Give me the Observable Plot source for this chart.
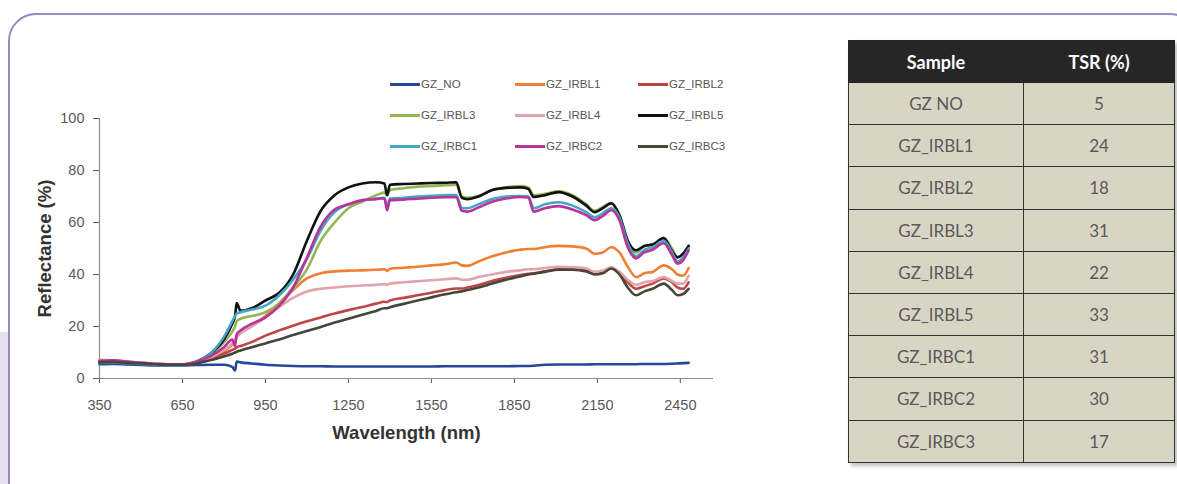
<!DOCTYPE html>
<html>
<head>
<meta charset="utf-8">
<script src="https://cdn.jsdelivr.net/npm/d3@7"></script>
<script src="https://cdn.jsdelivr.net/npm/@observablehq/plot@0.6"></script>
<style>
  html, body { margin: 0; padding: 0; background: #fff; }
  body { width: 1177px; height: 484px; position: relative; overflow: hidden; font-family: "Liberation Sans", Arial, sans-serif; }
  #tab { position: absolute; left: 0; top: 332px; width: 9px; height: 160px; background: #e4e0ee; }
  #frame { position: absolute; left: 8px; top: 13px; width: 1190px; height: 520px; border: 2px solid #9b88c0; border-radius: 28px; box-sizing: border-box; }
  #chart { position: absolute; left: 0; top: 0; }
  #chart svg [aria-label="y-axis label"] text, #chart svg [aria-label="x-axis label"] text { font-weight: bold; font-size: 18.5px; fill: #333; }
  #legend { position: absolute; left: 390px; top: 78px; font-size: 11.5px; color: #555; }
  .li { position: absolute; display: flex; align-items: center; white-space: nowrap; }
  .sw { width: 30px; height: 3px; margin-right: 1px; }
  #tbl { position: absolute; left: 848px; top: 40px; border-collapse: collapse; font-family: Lato, "Open Sans", sans-serif; box-shadow: 3px 3px 4px rgba(0,0,0,0.25); }
  #tbl th { background: #262626; color: #fff; font-weight: bold; font-size: 18px; height: 41px; padding: 0; border: 1.5px solid #262626; }
  #tbl td { background: #d9d5c5; color: #5a5a5a; font-size: 17px; height: 41.2px; padding: 0; text-align: center; border: 1.5px solid #333; }
</style>
</head>
<body>
<div id="tab"></div>
<div id="frame"></div>
<div id="chart"></div>
<div id="legend"></div>
<table id="tbl"></table>
<script>
// Wavelength grid (nm)
const wavelength = [350,400,450,500,550,600,650,700,750,800,830,840,846,860,900,950,1000,1050,1100,1150,1200,1250,1300,1350,1380,1390,1400,1450,1500,1550,1600,1640,1660,1680,1720,1770,1820,1870,1900,1920,1960,2010,2060,2110,2140,2170,2200,2230,2260,2290,2320,2350,2390,2420,2440,2460,2480];

// Reflectance (%) per sample
const GZ_NO    = [5.5,5.6,5.4,5.2,5.0,5.0,5.0,5.2,5.3,5.3, 4.5,3.0,6.5,6.2, 5.8,5.3,5.0,4.8,4.7,4.7,4.6,4.6,4.6,4.6, 4.6,4.6,4.6, 4.6,4.6,4.6,4.7,4.7, 4.7,4.7,4.7,4.7,4.7,4.8, 4.8,4.9,5.3,5.4,5.4, 5.4,5.5,5.5,5.5,5.5, 5.5,5.5,5.6,5.6,5.6, 5.7,5.8,5.9,6.0];
const GZ_IRBL1 = [6.5,6.6,6.2,5.9,5.6,5.4,5.4,6.0,7.5,10.5, 13,14,16,17.5, 20,24,29,34,38.5,40.5,41.2,41.5,41.6,41.8, 42,41.4,42.2, 42.6,43,43.5,44,44.6, 43.5,43.3,45,47,48.5,49.5, 49.8,49.8,50.5,51,50.8, 50,48,48.5,50.5,48.5, 43,39,40.5,41,43.5, 42,40,39.5,42.5];
const GZ_IRBL2 = [6.8,6.8,6.3,6.0,5.7,5.5,5.4,6.0,7.5,9.5, 11,11.5,12,12.5, 14,16.5,18.5,20.3,22,23.5,25,26.3,27.5,28.8, 29.5,29.4,30, 31,32,33,34,34.6, 34.6,35,36,37.5,38.7,39.8, 40.3,40.5,41.2,42,42, 41.5,40.3,40.8,42.7,40.5, 37,34.5,35.5,36.5,38.5, 37,35,34.5,37];
const GZ_IRBL3 = [6.5,6.7,6.3,6.0,5.7,5.4,5.4,6.5,9,14, 18,20,22,23, 24,25.5,29,35,42,53,60,65.5,68,70.5, 71.5,70.5,72.5, 73.2,73.8,74,74.3,74.5, 70,69.5,70.2,72.5,73.5,74, 73.5,70.5,71,72,70.5, 67,64.5,66,67.5,63, 53,48.5,51,51.5,54, 50,46.5,48,51];
const GZ_IRBL4 = [7.2,7.0,6.5,6.1,5.8,5.5,5.5,6.3,8,11, 13.5,15,16.5,17.5, 20,23.5,27.5,31,33.5,34.5,35,35.5,35.8,36, 36.3,36,36.5, 37,37.4,37.8,38.2,38.5, 38,38,39,40,41,41.6, 42,42,42.5,43,42.8, 42.3,41,41.5,42.8,41, 38,36,37,37.5,39, 37.5,36.5,36.5,39.5];
const GZ_IRBL5 = [6.2,6.4,6.0,5.8,5.5,5.3,5.3,6.5,9.5,15, 21,24,29,26, 27,30,33,40,53,64.5,70.5,73.5,75,75.5, 75,70.5,74.5, 74.8,75,75.2,75.3,75.5, 69.5,69,70,72.5,73.3,73.5, 73,69.8,70.5,71.7,70, 66.5,64,65.5,67.4,62.8, 53,49.3,51,51.5,54, 49,46.6,48,51];
const GZ_IRBC1 = [6.0,6.2,5.9,5.6,5.4,5.2,5.2,6.5,9.5,16, 22,24,25,25.5, 26.5,28,32,38,46,57,64,67,68.5,69.2, 69.5,66,69.2, 69.5,70,70.3,70.5,70.6, 65.5,65.5,67,69,70,70.2, 70,65.5,67,67.8,66.5, 64,62,63.5,65.5,62, 52,47,49.5,50.5,53, 48.5,45,46.5,50];
const GZ_IRBC2 = [6.8,7.0,6.5,6.0,5.7,5.4,5.4,6.3,8.5,12, 15,12.5,17,18.5, 21,23.5,28,35,46.5,58.5,65,67,68.6,69, 69.3,64.7,68.6, 68.8,69.2,69.5,69.7,69.8, 64.5,64.2,65.8,68,69.2,69.8, 69.6,64.2,65.5,66.3,65, 62.8,60.9,62.5,64.7,60.9, 50.5,46.2,48.5,49.5,52, 47.5,44.2,45.5,49.3];
const GZ_IRBC3 = [6.2,6.4,6.0,5.8,5.5,5.3,5.3,5.8,7,8.5, 9.5,10,10.3,10.8, 12,13.5,15,16.7,18.3,19.8,21.5,23,24.5,26, 27,27,27.4, 28.7,30,31.2,32.4,33.2, 33.5,34,35,36.5,38,39.2, 40,40.3,41,41.8,41.8, 41.2,40,40.5,42.3,40, 35,32,33.5,34.5,36.5, 34,32,32.5,34.5];

const seriesNames = ["GZ_NO","GZ_IRBL1","GZ_IRBL2","GZ_IRBL3","GZ_IRBL4","GZ_IRBL5","GZ_IRBC1","GZ_IRBC2","GZ_IRBC3"];
const seriesValues = [GZ_NO,GZ_IRBL1,GZ_IRBL2,GZ_IRBL3,GZ_IRBL4,GZ_IRBL5,GZ_IRBC1,GZ_IRBC2,GZ_IRBC3];
const seriesColors = ["#27479a","#ef7f33","#bf4646","#95b552","#e3a3aa","#111111","#43a6c4","#b8339a","#454538"];

const xTicks = [350,650,950,1250,1550,1850,2150,2450];
const yTicks = [0,20,40,60,80,100];

// Table data
const tableSamples = ["GZ NO","GZ_IRBL1","GZ_IRBL2","GZ_IRBL3","GZ_IRBL4","GZ_IRBL5","GZ_IRBC1","GZ_IRBC2","GZ_IRBC3"];
const tableTSR = [5,24,18,31,22,33,31,30,17];
const tableHeaders = ["Sample","TSR (%)"];

const rows = [];
seriesNames.forEach((name, i) => {
  wavelength.forEach((w, j) => rows.push({series: name, wl: w, r: seriesValues[i][j]}));
});

const chart = Plot.plot({
  width: 730,
  height: 460,
  marginLeft: 99,
  marginRight: 17,
  marginTop: 118,
  marginBottom: 82,
  style: {fontFamily: '"Liberation Sans", Arial, sans-serif', fontSize: "14.5px", color: "#595959", background: "transparent"},
  x: {domain: [350, 2570], ticks: xTicks, tickFormat: d => String(d), tickSize: 5, tickPadding: 16, label: "Wavelength (nm)", labelAnchor: "center", labelOffset: 60, labelArrow: "none"},
  y: {domain: [0, 100], ticks: yTicks, tickFormat: d => String(d), tickSize: 6, tickPadding: 9, label: "Reflectance (%)", labelAnchor: "center", labelOffset: 62, labelArrow: "none"},
  color: {domain: seriesNames, range: seriesColors},
  marks: [
    Plot.ruleY([0], {stroke: "#8c8c8c", strokeWidth: 1.2}),
    Plot.ruleX([350], {stroke: "#8c8c8c", strokeWidth: 1.2}),
    Plot.lineY(rows, {x: "wl", y: "r", z: "series", stroke: "series", strokeWidth: 2.6, curve: "monotone-x"})
  ]
});
document.getElementById("chart").appendChild(chart);

// Legend
const legend = document.getElementById("legend");
const colX = [0, 125, 248];
const rowY = [0, 31, 62];
seriesNames.forEach((name, i) => {
  const d = document.createElement("div");
  d.className = "li";
  d.style.left = colX[i % 3] + "px";
  d.style.top = rowY[Math.floor(i / 3)] + "px";
  const sw = document.createElement("span");
  sw.className = "sw";
  sw.style.background = seriesColors[i];
  d.appendChild(sw);
  d.appendChild(document.createTextNode(name));
  legend.appendChild(d);
});

// Table
const tbl = document.getElementById("tbl");
const thead = document.createElement("tr");
const colW = [174, 150];
tableHeaders.forEach((h, i) => {
  const th = document.createElement("th");
  th.textContent = h;
  th.style.width = colW[i] + "px";
  thead.appendChild(th);
});
tbl.appendChild(thead);
tableSamples.forEach((s, i) => {
  const tr = document.createElement("tr");
  [s, String(tableTSR[i])].forEach(v => {
    const td = document.createElement("td");
    td.textContent = v;
    tr.appendChild(td);
  });
  tbl.appendChild(tr);
});
</script>
</body>
</html>
